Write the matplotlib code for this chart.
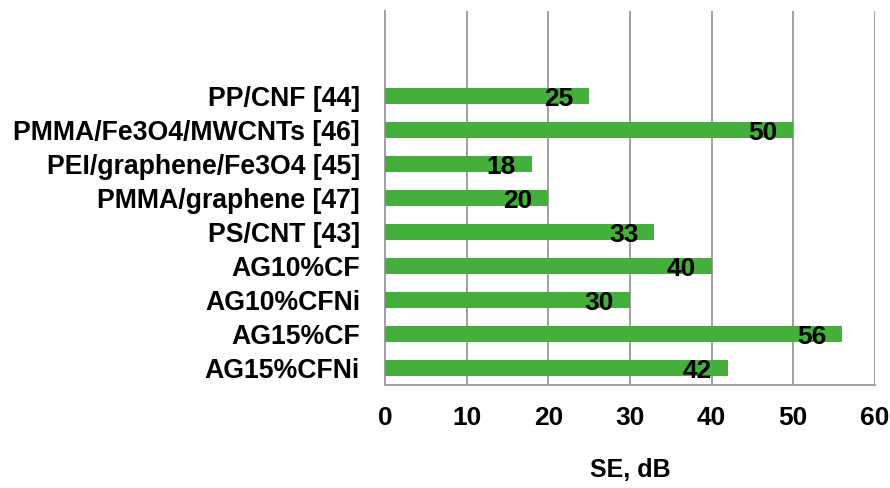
import matplotlib
matplotlib.use("Agg")
import matplotlib.pyplot as plt

# Shielding effectiveness of composites, listed top to bottom
categories = [
    "PP/CNF [44]",
    "PMMA/Fe3O4/MWCNTs [46]",
    "PEI/graphene/Fe3O4 [45]",
    "PMMA/graphene [47]",
    "PS/CNT [43]",
    "AG10%CF",
    "AG10%CFNi",
    "AG15%CF",
    "AG15%CFNi",
]
se_db = [25, 50, 18, 20, 33, 40, 30, 56, 42]
x_ticks = [0, 10, 20, 30, 40, 50, 60]

plt.rcParams["font.family"] = ["Liberation Sans", "DejaVu Sans"]
plt.rcParams["font.weight"] = "bold"

fig = plt.figure(figsize=(8.9, 4.88), dpi=100)
ax = fig.add_axes([0.4326, 0.211, 0.9831 - 0.4326, 0.9775 - 0.211])

n = len(categories)
ypos = [n - 1 - i for i in range(n)]
green = "#44B03B"
ax.barh(ypos, se_db, height=0.45, color=green, zorder=3)

for y, v in zip(ypos, se_db):
    ax.annotate(str(v), xy=(v, y), xytext=(-16, -3), textcoords="offset pixels",
                ha="right", va="center", fontsize=19, fontweight="bold",
                color="black", zorder=4)

ax.set_xlim(0, 60)
ax.set_ylim(-0.5, n + 1.5)
ax.set_xticks(x_ticks)
ax.set_xticklabels([str(t) for t in x_ticks], fontsize=19, fontweight="bold")
ax.set_yticks(ypos)
ax.set_yticklabels(categories, fontsize=19.2, fontweight="bold")
ax.tick_params(axis="both", length=0)
ax.tick_params(axis="x", pad=15)
ax.tick_params(axis="y", pad=18)

ax.xaxis.grid(True, color="#A0A0A0", linewidth=1.4, zorder=0)
ax.yaxis.grid(False)
for side in ("top", "right"):
    ax.spines[side].set_visible(False)
for side in ("left", "bottom"):
    ax.spines[side].set_color("#A0A0A0")
    ax.spines[side].set_linewidth(1.4)

ax.set_xlabel("SE, dB", fontsize=18, fontweight="bold")
ax.xaxis.set_label_coords(0.5, -0.227)
ax.xaxis.label.set_va("center")

fig.savefig("out.png", dpi=100)
